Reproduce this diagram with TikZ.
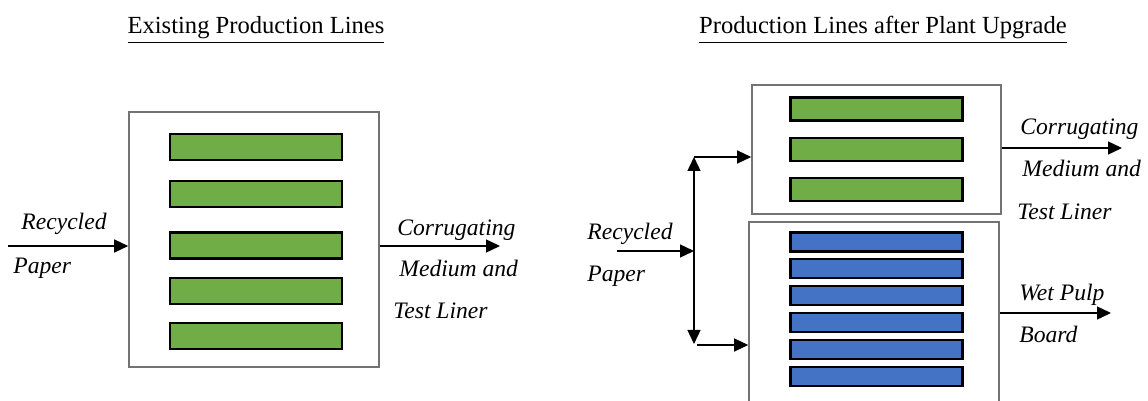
\documentclass[tikz,border=0pt]{standalone}
\usepackage{fontspec}
\setmainfont{Liberation Serif}
\usetikzlibrary{arrows.meta,positioning}
\definecolor{linegreen}{HTML}{70AD47}
\definecolor{lineblue}{HTML}{4472C4}
\tikzset{
  plant/.style={draw=black!55,line width=0.8pt,inner sep=0pt},
  greenline/.style={draw=black,fill=linegreen,line width=1.1pt,minimum width=86pt,inner sep=0pt},
  blueline/.style={draw=black,fill=lineblue,line width=1.1pt,minimum width=86pt,minimum height=9.5pt,inner sep=0pt},
  flow/.style={-{Triangle[length=7pt,width=6.5pt]},line width=0.7pt},
  lbl/.style={font=\fontsize{11.8}{14}\selectfont\itshape,anchor=base west,inner sep=0pt},
  heading/.style={font=\fontsize{12.3}{14}\selectfont,anchor=base,inner sep=0pt}
}

\begin{document}
\begin{tikzpicture}[x=0.5pt,y=-0.5pt]
    \useasboundingbox (0,0) rectangle (1148,401);
    \clip (0,0) rectangle (1148,401);

    % existing plant
    \node[heading] (oldtitle) at (256,34) {\underline{Existing Production Lines}};
    \node[plant,minimum width=125pt,minimum height=127.5pt] (oldbox) at (254,239.5) {};
    \foreach \y [count=\i] in {147,194,245.5,291,336}
      \node[greenline,minimum height=13pt] (old\i) at (256,\y) {};

    \coordinate (lin) at (8,246);
    \coordinate (lout) at (500,246);
    \draw[flow] (lin) -- (lin -| oldbox.west);
    \draw[flow] (lout -| oldbox.east) -- (lout);
    \node[lbl] (oldrec) at (21,230) {Recycled};
    \node[lbl] (oldpap) at (13,274) {Paper};
    \node[lbl] (oldcor) at (397,235) {Corrugating};
    \node[lbl] (oldmed) at (399,277) {Medium and};
    \node[lbl] (oldtest) at (393,319) {Test Liner};

    % upgraded plant
    \node[heading] (newtitle) at (883,34) {\underline{Production Lines after Plant Upgrade}};
    \node[plant,minimum width=124.5pt,minimum height=64.5pt] (cmbox) at (876.5,149.5) {};
    \foreach \y [count=\i] in {109,149.5,189.5}
      \node[greenline,minimum height=11.5pt] (cm\i) at (876.5,\y) {};
    \node[plant,minimum width=125pt,minimum height=104pt] (pulpbox) at (874,326) {};
    \foreach \i in {0,...,5}
      \node[blueline] (pulp\i) at (876.5,{242+26.9*\i}) {};

    \coordinate (rin) at (617,251);
    \coordinate (splittop) at (694,157);
    \coordinate (splitbot) at (694,344);
    \coordinate (botstart) at (697,345);
    \coordinate (cout) at (1122,148);
    \coordinate (pout) at (1111,313);
    \draw[flow] (rin) -- (rin -| splittop);
    \draw[flow,{Triangle[length=7pt,width=6.5pt]}-{Triangle[length=7pt,width=6.5pt]}] (splittop) -- (splitbot);
    \draw[flow] (splittop) -- (splittop -| cmbox.west);
    \draw[flow] (botstart) -- (botstart -| pulpbox.west);
    \draw[flow] (cout -| cmbox.east) -- (cout);
    \draw[flow] (pout -| pulpbox.east) -- (pout);

    \node[lbl] (newrec) at (587,240) {Recycled};
    \node[lbl] (newpap) at (587,282) {Paper};
    \node[lbl] (newcor) at (1020,135) {Corrugating};
    \node[lbl] (newmed) at (1022,177) {Medium and};
    \node[lbl] (newtest) at (1017,220) {Test Liner};
    \node[lbl] (wet) at (1019,300) {Wet Pulp};
    \node[lbl] (board) at (1019,343) {Board};
\end{tikzpicture}
\end{document}
